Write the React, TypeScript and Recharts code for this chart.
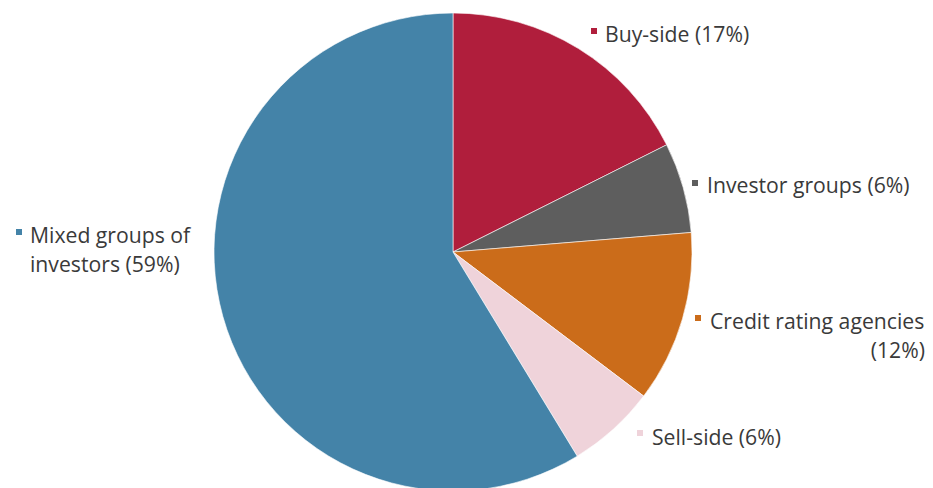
import { Cell, Pie, PieChart } from "recharts";

// slice order runs clockwise from 12 o'clock
const names = [
  "Buy-side",
  "Investor groups",
  "Credit rating agencies",
  "Sell-side",
  "Mixed groups of investors",
];
const shares = [17.6, 6.1, 11.6, 6.0, 58.7];
const colors = ["#B01E3C", "#5E5E5E", "#CB6C1A", "#EFD3DA", "#4483A8"];

// label text lines per slice
const labelLines = [
  ["Buy-side (17%)"],
  ["Investor groups (6%)"],
  ["Credit rating agencies", "(12%)"],
  ["Sell-side (6%)"],
  ["Mixed groups of", "investors (59%)"],
];

const data = names.map((name, i) => ({ name, value: shares[i] }));

// where each label sits: marker x/y, text x, first baseline, anchor of later lines
const labelPos = [
  { mx: 591, my: 28, tx: 605, ty: 42, endX: 0 },
  { mx: 692, my: 180, tx: 707, ty: 193, endX: 0 },
  { mx: 695, my: 315, tx: 710, ty: 329, endX: 925 },
  { mx: 637, my: 430, tx: 652, ty: 445, endX: 0 },
  { mx: 16, my: 229, tx: 30, ty: 243, endX: 0 },
];

const FONT = "'Open Sans', sans-serif";

function renderLabel(props: any) {
  const { index } = props;
  const p = labelPos[index];
  const lines = labelLines[index];
  return (
    <g key={`lbl-${index}`}>
      <rect x={p.mx} y={p.my} width={6} height={6} fill={colors[index]} />
      {lines.map((line, j) => {
        const right = j > 0 && p.endX > 0;
        return (
          <text
            key={j}
            x={right ? p.endX : p.tx}
            y={p.ty + j * 29}
            textAnchor={right ? "end" : "start"}
            fontFamily={FONT}
            fontSize={21.2}
            fill="#3a3a3a"
          >
            {line}
          </text>
        );
      })}
    </g>
  );
}

export default function App() {
  return (
    <div style={{ position: "absolute", left: 0, top: 0, background: "#fff" }}>
      <PieChart
        width={933}
        height={488}
        margin={{ top: 0, right: 0, bottom: 0, left: 0 }}
      >
        <Pie
          data={data}
          dataKey="value"
          cx={453}
          cy={252}
          outerRadius={239}
          startAngle={90}
          endAngle={-270}
          stroke="#ffffff"
          strokeWidth={0.6}
          labelLine={false}
          label={renderLabel}
          isAnimationActive={false}
        >
          {data.map((entry, i) => (
            <Cell key={`cell-${i}`} fill={colors[i]} />
          ))}
        </Pie>
      </PieChart>
    </div>
  );
}
